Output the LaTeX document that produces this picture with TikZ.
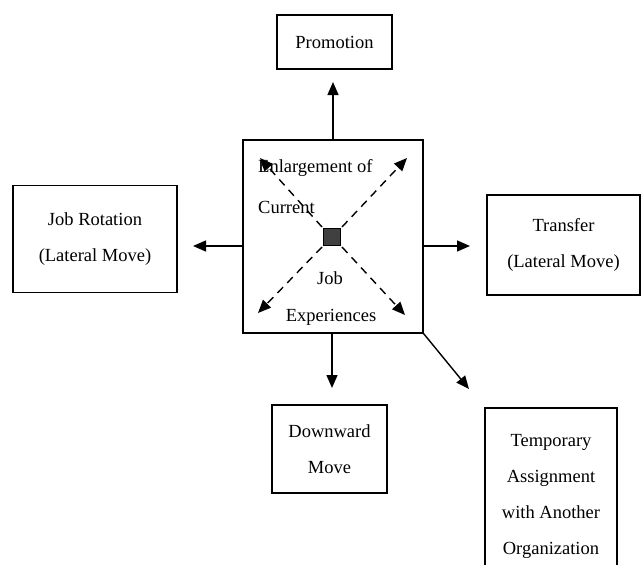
\documentclass[tikz,border=0pt]{standalone}
\usepackage{fontspec}
\setmainfont{Liberation Serif}
\usetikzlibrary{arrows.meta}
\begin{document}
\begin{tikzpicture}[x=1pt,y=-1pt,
  box/.style={draw,line width=1.3pt,inner sep=0pt,align=center,
    font=\fontsize{18.5}{36}\selectfont},
  lbl/.style={inner sep=0pt,font=\fontsize{18.5}{22}\selectfont},
  arr/.style={line width=1.4pt,-{Triangle[length=13pt,width=11pt]}},
  darr/.style={arr,dash pattern=on 8pt off 6pt}]
\useasboundingbox (0,0) rectangle (643,565);

% outer boxes
\node[box,minimum width=115pt,minimum height=54pt] (promo) at (334.5,42) {Promotion};
\node[box,minimum width=164pt,minimum height=107pt] (rot) at (95,239) {Job Rotation\\(Lateral Move)};
\node[box,minimum width=153pt,minimum height=100pt] (trans) at (563.5,245) {Transfer\\(Lateral Move)};
\node[box,minimum width=115pt,minimum height=88pt] (down) at (329.5,449) {Downward\\Move};
\node[box,minimum width=132pt,minimum height=177pt] (temp) at (551,496.5) {Temporary\\Assignment\\with Another\\Organization};

% central box
\node[draw,line width=1.3pt,minimum width=180pt,minimum height=193pt] (cbox) at (333,236.5) {};
\node[lbl,anchor=west] (t1) at (258,168) {Enlargement of};
\node[lbl,anchor=west] (t2) at (258,207) {Current};
\node[lbl] (t3) at (330,278) {Job};
\node[lbl] (t4) at (331,317) {Experiences};
\node[draw,line width=1pt,fill=black!75,minimum size=17pt,inner sep=0pt] (sq) at (332,237) {};

% dashed arrows from the centre square
\coordinate (tl) at (260,158);
\coordinate (tr) at (407,158);
\coordinate (bl) at (258,313);
\coordinate (br) at (405,315);
\draw[darr] (sq.center) ++(-10,-10) -- (tl);
\draw[darr] (sq.center) ++(10,-10) -- (tr);
\draw[darr] (sq.center) ++(-10,10) -- (bl);
\draw[darr] (sq.center) ++(10,10) -- (br);

% solid arrows out of the central box
\coordinate (up) at (333,82);
\coordinate (lt) at (193,246);
\coordinate (rt) at (470,246);
\coordinate (dn) at (332,388);
\coordinate (dg) at (469,389);
\draw[arr] (cbox.north -| up) -- (up);
\draw[arr] (cbox.west |- lt) -- (lt);
\draw[arr] (cbox.east |- rt) -- (rt);
\draw[arr] (cbox.south -| dn) -- (dn);
\draw[arr] (cbox.south east) -- (dg);
\end{tikzpicture}
\end{document}
